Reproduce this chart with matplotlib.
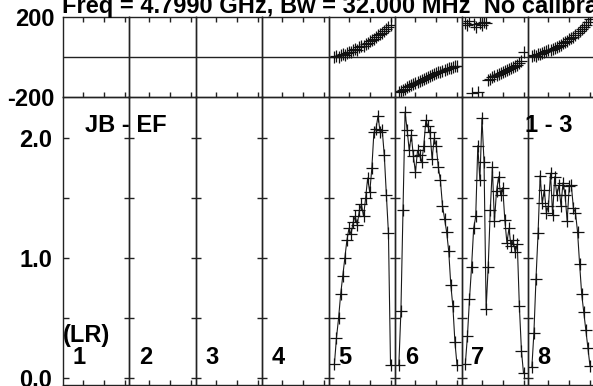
import matplotlib
matplotlib.use('Agg')
import matplotlib.pyplot as plt

W, H = 593, 386
FONT = 'Liberation Sans'
FS = 17

# ---------------- data ----------------
if_labels = ['1', '2', '3', '4', '5', '6', '7', '8']
chan_ticks = [10, 20, 30]
amp_ticks = [0.0, 0.5, 1.0, 1.5, 2.0]
amp_ticklabels = ['0.0', '', '1.0', '', '2.0']
phase_ticks = [-200, 200]
phase_ticklabels = ['-200', '200']

# first channel plotted in IFs 5..8 (IFs 1-4 have no data)
chan_start = {5: 3, 6: 2, 7: 2, 8: 2}

amp5 = [0.12, 0.34, 0.5, 0.7, 0.85, 1.0, 1.15, 1.25, 1.2, 1.3, 1.35, 1.28, 1.4, 1.45,
        1.35, 1.5, 1.67, 1.55, 1.75, 2.05, 2.08, 2.19, 2.05, 2.07, 1.86, 1.53, 1.21, 0.11]
amp6 = [0.11, 0.56, 1.4, 2.22, 2.07, 1.9, 2.03, 1.85, 1.72, 1.9, 1.86, 1.8, 1.94, 2.15,
        2.1, 2.05, 1.83, 2.0, 1.94, 1.76, 1.65, 1.44, 1.33, 1.22, 1.06, 0.78, 0.6, 0.3, 0.11]
amp7 = [0.12, 0.35, 0.66, 0.93, 1.25, 1.35, 1.94, 1.65, 2.17, 1.8, 0.58, 0.93, 1.4, 1.76,
        1.31, 1.56, 1.68, 1.53, 1.59, 1.32, 1.13, 1.25, 1.1, 1.15, 1.05, 1.12, 0.6, 0.23, 0.04]
amp8 = [0.09, 0.38, 0.83, 1.21, 1.69, 1.46, 1.57, 1.38, 1.44, 1.71, 1.36, 1.68, 1.53, 1.61,
        1.44, 1.63, 1.53, 1.31, 1.6, 1.61, 1.42, 1.38, 1.22, 0.95, 0.7, 0.55, 0.4, 0.25, 0.1]

ph5 = [0, 5, 2, 10, 15, 12, 22, 28, 25, 35, 40, 38, 50, 55, 58, 65, 72, 78, 85, 92,
       100, 108, 115, 122, 132, 142, 152, 162]
ph6 = [-172, -168, -162, -158, -150, -146, -140, -135, -130, -125, -120, -114, -110, -105,
       -100, -95, -90, -85, -80, -76, -72, -68, -64, -60, -56, -52, -50, -46, -42]
ph7 = [172, 160, 178, -178, 165, 150, -175, 170, 158, 175, 168, -112, -108, -100, -96,
       -90, -85, -80, -75, -70, -65, -60, -55, -50, -45, -38, -30, -21, 28]
ph8 = [5, 10, 8, 15, 18, 22, 25, 30, 35, 38, 42, 48, 52, 58, 62, 68, 75, 80, 88, 95,
       102, 110, 118, 128, 138, 150, 162, 175, 190]

amps = {5: amp5, 6: amp6, 7: amp7, 8: amp8}
phases = {5: ph5, 6: ph6, 7: ph7, 8: ph8}

# ---------------- layout ----------------
fig = plt.figure(figsize=(W / 100, H / 100), dpi=100)
fig.patch.set_facecolor('white')

x0_px, pw_px = 62.7, 66.5
top_top, top_bot = 17.0, 97.3
bot_top, bot_bot = 97.3, 385.0


def fx(px):
    return px / W


def fy(py):
    return 1 - py / H


spine_c = '#222222'
for k in range(8):
    ifn = k + 1
    left = fx(x0_px + pw_px * k)
    width = pw_px / W
    axt = fig.add_axes([left, fy(top_bot), width, (top_bot - top_top) / H])
    axb = fig.add_axes([left, fy(bot_bot), width, (bot_bot - bot_top) / H])
    for ax in (axt, axb):
        ax.set_xlim(0.25, 32.25)
        ax.set_facecolor('none')
        for s in ax.spines.values():
            s.set_color(spine_c)
            s.set_linewidth(1.0)
        ax.set_xticks(chan_ticks)
        ax.set_xticklabels([])
    axt.set_ylim(-200, 200)
    axb.set_ylim(-0.056, 2.343)
    axt.axhline(0, color=spine_c, lw=1.0)
    axt.tick_params(axis='x', direction='in', top=True, bottom=True, length=3.5,
                    width=1.0, color=spine_c)
    axb.tick_params(axis='x', direction='in', top=False, bottom=True, length=3.5,
                    width=1.0, color=spine_c)
    axt.set_yticks(phase_ticks)
    axb.set_yticks(amp_ticks)
    if k == 0:
        axt.set_yticklabels(phase_ticklabels, fontfamily=FONT, fontweight='bold', fontsize=FS)
        axb.set_yticklabels(amp_ticklabels, fontfamily=FONT, fontweight='bold', fontsize=FS)
        axt.tick_params(axis='y', length=0, pad=6)
        axb.tick_params(axis='y', direction='in', length=4, width=1.0, color=spine_c, pad=7.5)
    else:
        axt.set_yticklabels([])
        axb.set_yticklabels([])
        axt.tick_params(axis='y', length=0)
        axb.tick_params(axis='y', direction='inout', length=7.5, width=1.0, color=spine_c)

    if ifn in amps:
        c0 = chan_start[ifn]
        ch = list(range(c0, c0 + len(amps[ifn])))
        axb.plot(ch, amps[ifn], color='#1a1a1a', lw=0.8, marker='+', ms=8,
                 mew=0.9, mec='#111111')
        axt.plot(ch, phases[ifn], linestyle='none', color='#1a1a1a', marker='+', ms=8,
                 mew=0.9, mec='#111111')

    fig.text(fx(x0_px + pw_px * k + 9.5), fy(364), if_labels[k], fontfamily=FONT,
             fontweight='bold', fontsize=FS, ha='left', va='baseline')

tkw = dict(fontfamily=FONT, fontweight='bold', fontsize=FS, va='baseline')
fig.text(fx(63), fy(342), '(LR)', ha='left', **tkw)
fig.text(fx(85), fy(131.5), 'JB - EF', ha='left', **tkw)
fig.text(fx(525), fy(131.5), '1 - 3', ha='left', **tkw)
fig.text(fx(62), fy(12.5), 'Freq = 4.7990 GHz, Bw = 32.000 MHz  No calibration applied',
         ha='left', **tkw)

fig.savefig('out.png', dpi=100)
